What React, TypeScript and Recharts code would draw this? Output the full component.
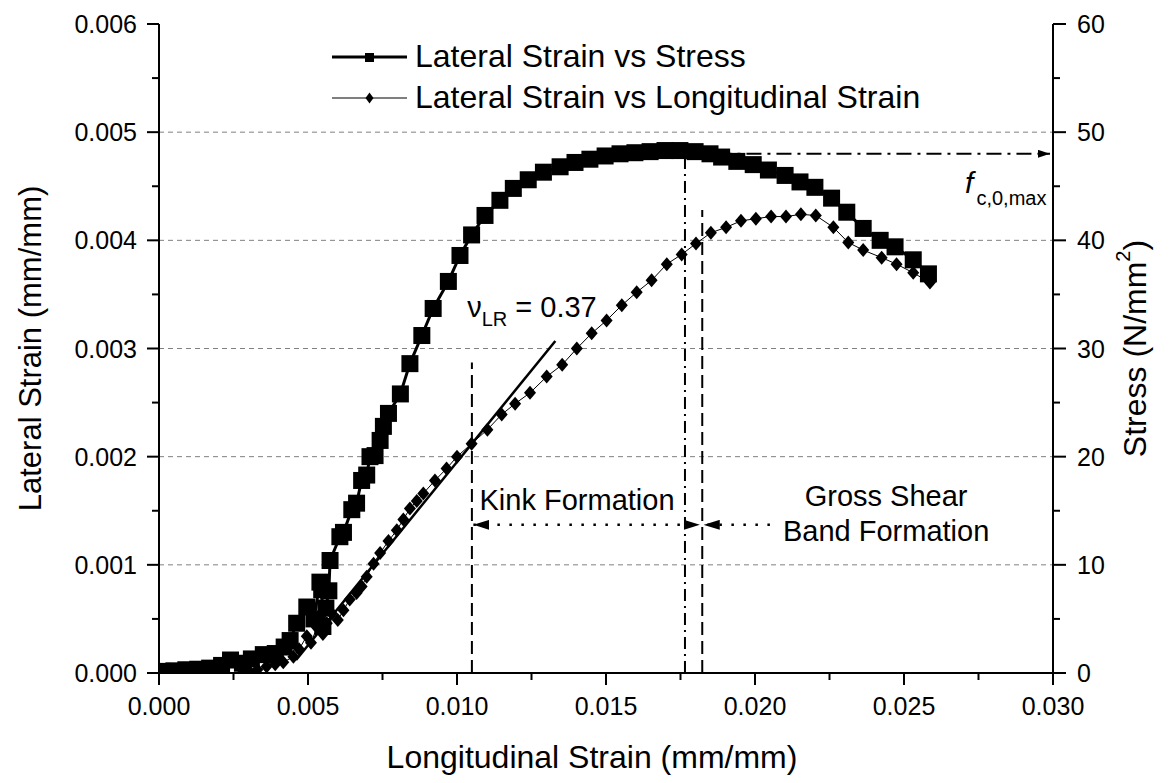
import {
  ComposedChart,
  Line,
  XAxis,
  YAxis,
  CartesianGrid,
  ReferenceLine,
  ReferenceDot,
  Legend,
} from 'recharts';

// squares: longitudinal strain vs stress (right axis)
const sqStrain = [
  0.0001, 0.0005, 0.0009, 0.0013, 0.0017, 0.0021, 0.0024, 0.0028, 0.0031, 0.0035,
  0.0039, 0.0042, 0.0044, 0.00462, 0.00496, 0.0052, 0.0054, 0.00546, 0.0055, 0.0056,
  0.0057, 0.00574, 0.00607, 0.00619, 0.00647, 0.00663, 0.0068, 0.00697, 0.00708, 0.00725,
  0.00742, 0.00753, 0.0077, 0.0081, 0.00842, 0.00882, 0.0092, 0.00971, 0.0101, 0.01049,
  0.01094, 0.01144, 0.01189, 0.01239, 0.0129, 0.01346, 0.01396, 0.01446, 0.01497, 0.01547,
  0.01597, 0.01648, 0.01698, 0.01748, 0.01799, 0.01849, 0.01888, 0.01939, 0.01994, 0.02045,
  0.02101, 0.02151, 0.02201, 0.02257, 0.02308, 0.02363, 0.0242, 0.0247, 0.02531, 0.02582,
];
const sqStress = [
  0.15, 0.2, 0.3, 0.35, 0.45, 0.7, 1.2, 0.9, 1.3, 1.7,
  1.8, 2.4, 3.0, 4.6, 6.1, 5.0, 8.4, 7.7, 4.3, 6.0,
  7.6, 10.4, 12.6, 13.0, 15.1, 15.7, 17.8, 18.3, 20.0, 20.1,
  21.5, 22.8, 24.0, 25.8, 28.6, 31.2, 33.7, 36.2, 38.6, 40.5,
  42.3, 43.7, 44.8, 45.6, 46.3, 46.8, 47.2, 47.5, 47.8, 48.0,
  48.1, 48.2, 48.3, 48.3, 48.2, 48.0, 47.7, 47.3, 47.0, 46.5,
  46.0, 45.4, 44.9, 43.9, 42.6, 41.1, 40.0, 39.4, 38.2, 36.9,
];

// diamonds: longitudinal strain vs lateral strain (left axis)
const dmStrain = [
  0.0028, 0.00305, 0.0033, 0.00361, 0.0039, 0.00417, 0.00451, 0.0047, 0.00496, 0.0051,
  0.0053, 0.0055, 0.00563, 0.0058, 0.006, 0.00619, 0.0064, 0.00663, 0.0068, 0.00697,
  0.0072, 0.00742, 0.0077, 0.00798, 0.0082, 0.00842, 0.00865, 0.00887, 0.00926, 0.00965,
  0.01, 0.01049, 0.01102, 0.0115, 0.01195, 0.01245, 0.01301, 0.01353, 0.01402, 0.01452,
  0.01502, 0.01553, 0.01603, 0.01653, 0.01704, 0.01754, 0.01802, 0.01852, 0.01903, 0.01953,
  0.02003, 0.02054, 0.02104, 0.02154, 0.02204, 0.02263, 0.02313, 0.02363, 0.02425, 0.02475,
  0.02531, 0.02587,
];
const dmLateral = [
  0.0, 0.00001, 0.00003, 0.00006, 0.00008, 0.0001, 0.00015, 0.00022, 0.00034, 0.00028,
  0.00042, 0.00036, 0.00046, 0.00055, 0.00049, 0.00058, 0.00068, 0.00074, 0.0008, 0.00089,
  0.00101, 0.00111, 0.00122, 0.00132, 0.00142, 0.00152, 0.00159, 0.00166, 0.00178, 0.00189,
  0.002, 0.00212, 0.00225, 0.00239, 0.00249, 0.00259, 0.00274, 0.00285, 0.003, 0.00314,
  0.00326, 0.0034, 0.00352, 0.00363, 0.00378, 0.00387, 0.00397, 0.00407, 0.00412, 0.00418,
  0.0042, 0.00422, 0.00422, 0.00424, 0.00423, 0.00412, 0.00398, 0.00391, 0.00384, 0.00378,
  0.0037, 0.00361,
];

const strainTicks = [0, 0.0025, 0.005, 0.0075, 0.01, 0.0125, 0.015, 0.0175, 0.02, 0.0225, 0.025, 0.0275, 0.03];
const lateralTicks = [0, 0.0005, 0.001, 0.0015, 0.002, 0.0025, 0.003, 0.0035, 0.004, 0.0045, 0.005, 0.0055, 0.006];
const stressTicks = [0, 5, 10, 15, 20, 25, 30, 35, 40, 45, 50, 55, 60];
const gridValues = [0.001, 0.002, 0.003, 0.004, 0.005];
const legendOrder = ['stress', 'lateral'];

const FONT = "'Liberation Sans', Arial, Helvetica, sans-serif";
const W = 1173;
const H = 783;
const AXIS_LEFT = 159;
const RIGHT_W = 120;
const BOTTOM_H = 110;
const AXIS_RIGHT = W - RIGHT_W;
const AXIS_BOTTOM = H - BOTTOM_H;

const sqData = sqStrain.map((x, i) => ({ x, stress: sqStress[i] }));
const dmData = dmStrain.map((x, i) => ({ x, lateral: dmLateral[i] }));

const isMajor = (v: number, step: number) => Math.abs(v / step - Math.round(v / step)) < 1e-6;

function LeftTick(props: any) {
  const { payload } = props;
  const y = payload.coordinate;
  const major = isMajor(payload.value, 0.001);
  return (
    <g>
      <line x1={AXIS_LEFT - (major ? 12 : 7)} x2={AXIS_LEFT} y1={y} y2={y} stroke="#000" strokeWidth={2} />
      {major && (
        <text x={AXIS_LEFT - 22} y={y} textAnchor="end" dominantBaseline="central" fontSize={25} fontFamily={FONT} fill="#000">
          {payload.value.toFixed(3)}
        </text>
      )}
    </g>
  );
}

function BottomTick(props: any) {
  const { payload } = props;
  const x = payload.coordinate;
  const major = isMajor(payload.value, 0.005);
  return (
    <g>
      <line x1={x} x2={x} y1={AXIS_BOTTOM} y2={AXIS_BOTTOM + (major ? 12 : 7)} stroke="#000" strokeWidth={2} />
      {major && (
        <text x={x} y={AXIS_BOTTOM + 33} textAnchor="middle" dominantBaseline="central" fontSize={25} fontFamily={FONT} fill="#000">
          {payload.value.toFixed(3)}
        </text>
      )}
    </g>
  );
}

function RightTick(props: any) {
  const { payload } = props;
  const y = payload.coordinate;
  const major = isMajor(payload.value, 10);
  return (
    <g>
      <line x1={AXIS_RIGHT} x2={AXIS_RIGHT + (major ? 13 : 7)} y1={y} y2={y} stroke="#000" strokeWidth={2} />
      {major && (
        <text x={AXIS_RIGHT + 24} y={y} textAnchor="start" dominantBaseline="central" fontSize={25} fontFamily={FONT} fill="#000">
          {payload.value}
        </text>
      )}
    </g>
  );
}

const renderSquare = (p: any) => {
  if (p.cx == null || p.cy == null) return <g key={`sq-${p.index}`} />;
  return <rect key={`sq-${p.index}`} x={p.cx - 8.5} y={p.cy - 8.5} width={17} height={17} fill="#000" />;
};

const renderDiamond = (p: any) => {
  if (p.cx == null || p.cy == null) return <g key={`dm-${p.index}`} />;
  const { cx, cy } = p;
  return (
    <path
      key={`dm-${p.index}`}
      d={`M${cx} ${cy - 7} L${cx + 6} ${cy} L${cx} ${cy + 7} L${cx - 6} ${cy} Z`}
      fill="#000"
    />
  );
};

function renderLegend(props: any) {
  const payload = [...(props.payload || [])].sort(
    (a: any, b: any) => legendOrder.indexOf(a.dataKey) - legendOrder.indexOf(b.dataKey),
  );
  return (
    <div style={{ fontFamily: FONT, fontSize: 32, color: '#000' }}>
      {payload.map((entry: any) => {
        const isStress = entry.dataKey === 'stress';
        return (
          <div key={entry.value} style={{ display: 'flex', alignItems: 'center', height: 41, whiteSpace: 'nowrap' }}>
            <svg width={75} height={20} style={{ marginRight: 8 }}>
              <line x1={0} x2={75} y1={10} y2={10} stroke="#000" strokeWidth={isStress ? 3 : 1.2} />
              {isStress ? (
                <rect x={33} y={6} width={9} height={9} fill="#000" />
              ) : (
                <path d="M37.5 4.5 L41.5 10 L37.5 15.5 L33.5 10 Z" fill="#000" />
              )}
            </svg>
            <span>{entry.value}</span>
          </div>
        );
      })}
    </div>
  );
}

// annotation anchors, in data units
const kinkTextAt = { x: 0.0173, y: 0.0016 };
const shearTextAt = { x: 0.0244, y: 0.00148 };
const nuTextAt = { x: 0.01034, y: 0.00329 };
const fTextAt = { x: 0.02705, y: 44.4 };
const arrowLevel = 0.00137;

const txt = { fontFamily: FONT, fill: '#000' };

const arrowLine = (marker: { start?: string; end?: string }, dash: string, width: number) => (p: any) => (
  <line
    x1={p.x1}
    y1={p.y1}
    x2={p.x2}
    y2={p.y2}
    stroke="#000"
    strokeWidth={width}
    strokeDasharray={dash}
    markerStart={marker.start ? `url(#${marker.start})` : undefined}
    markerEnd={marker.end ? `url(#${marker.end})` : undefined}
  />
);

export default function App() {
  return (
    <div style={{ position: 'absolute', left: 0, top: 0, width: W, height: H, background: '#fff' }}>
      <svg width={0} height={0} style={{ position: 'absolute' }}>
        <defs>
          <marker id="arrowHead" viewBox="0 0 16 10" refX={16} refY={5} markerWidth={16} markerHeight={10} markerUnits="userSpaceOnUse" orient="auto-start-reverse">
            <path d="M0 0 L16 5 L0 10 Z" fill="#000" />
          </marker>
          <marker id="arrowSmall" viewBox="0 0 12 8" refX={12} refY={4} markerWidth={12} markerHeight={8} markerUnits="userSpaceOnUse" orient="auto">
            <path d="M0 0 L12 4 L0 8 Z" fill="#000" />
          </marker>
        </defs>
      </svg>
      <ComposedChart width={W} height={H} margin={{ top: 24, right: 0, bottom: 0, left: 0 }}>
        <CartesianGrid
          yAxisId="left"
          vertical={false}
          horizontalValues={gridValues}
          stroke="#808080"
          strokeDasharray="5 4"
        />
        <XAxis
          dataKey="x"
          type="number"
          domain={[0, 0.03]}
          ticks={strainTicks}
          interval={0}
          allowDataOverflow
          height={BOTTOM_H}
          tickLine={false}
          axisLine={{ stroke: '#000', strokeWidth: 2 }}
          tick={<BottomTick />}
          label={(p: any) => (
            <text
              x={p.viewBox.x + p.viewBox.width / 2 - 14}
              y={p.viewBox.y + 84}
              textAnchor="middle"
              dominantBaseline="central"
              fontSize={32}
              {...txt}
            >
              Longitudinal Strain (mm/mm)
            </text>
          )}
        />
        <XAxis
          xAxisId="top"
          orientation="top"
          type="number"
          domain={[0, 0.03]}
          height={0}
          tick={false}
          tickLine={false}
          axisLine={{ stroke: '#000', strokeWidth: 2 }}
        />
        <YAxis
          yAxisId="left"
          type="number"
          domain={[0, 0.006]}
          ticks={lateralTicks}
          interval={0}
          allowDataOverflow
          width={AXIS_LEFT}
          tickLine={false}
          axisLine={{ stroke: '#000', strokeWidth: 2 }}
          tick={<LeftTick />}
          label={(p: any) => {
            const cy = p.viewBox.y + p.viewBox.height / 2;
            return (
              <text x={30} y={cy} transform={`rotate(-90 30 ${cy})`} textAnchor="middle" dominantBaseline="central" fontSize={31} {...txt}>
                Lateral Strain (mm/mm)
              </text>
            );
          }}
        />
        <YAxis
          yAxisId="right"
          orientation="right"
          type="number"
          domain={[0, 60]}
          ticks={stressTicks}
          interval={0}
          allowDataOverflow
          width={RIGHT_W}
          tickLine={false}
          axisLine={{ stroke: '#000', strokeWidth: 2 }}
          tick={<RightTick />}
          label={(p: any) => {
            const cy = p.viewBox.y + p.viewBox.height / 2;
            const cx = AXIS_RIGHT + 82;
            return (
              <text x={cx} y={cy} transform={`rotate(-90 ${cx} ${cy})`} textAnchor="middle" dominantBaseline="central" fontSize={32} {...txt}>
                Stress (N/mm
                <tspan dy={-12} fontSize={20}>2</tspan>
                <tspan dy={12}>)</tspan>
              </text>
            );
          }}
        />

        <ReferenceLine
          yAxisId="left"
          segment={[{ x: 0.0046, y: 0.00012 }, { x: 0.0133, y: 0.00307 }]}
          stroke="#000"
          strokeWidth={2.5}
        />
        <ReferenceLine
          yAxisId="left"
          segment={[{ x: 0.0105, y: 0 }, { x: 0.0105, y: 0.00287 }]}
          stroke="#000"
          strokeWidth={2}
          strokeDasharray="13 6"
        />
        <ReferenceLine
          yAxisId="left"
          segment={[{ x: 0.01823, y: 0 }, { x: 0.01823, y: 0.00428 }]}
          stroke="#000"
          strokeWidth={2}
          strokeDasharray="13 6"
        />
        <ReferenceLine
          yAxisId="right"
          segment={[{ x: 0.01765, y: 0 }, { x: 0.01765, y: 47.8 }]}
          stroke="#000"
          strokeWidth={2}
          strokeDasharray="12 5 2 5"
        />
        <ReferenceLine
          yAxisId="right"
          segment={[{ x: 0.0177, y: 48 }, { x: 0.0299, y: 48 }]}
          shape={arrowLine({ end: 'arrowSmall' }, '15 6 3 6', 2)}
        />
        <ReferenceLine
          yAxisId="left"
          segment={[{ x: 0.01055, y: arrowLevel }, { x: 0.01815, y: arrowLevel }]}
          shape={arrowLine({ start: 'arrowHead', end: 'arrowHead' }, '2.5 9.5', 2.5)}
        />
        <ReferenceLine
          yAxisId="left"
          segment={[{ x: 0.0205, y: arrowLevel }, { x: 0.01828, y: arrowLevel }]}
          shape={arrowLine({ end: 'arrowHead' }, '2.5 9.5', 2.5)}
        />

        <Line
          data={sqData}
          dataKey="stress"
          yAxisId="right"
          name="Lateral Strain vs Stress"
          type="linear"
          stroke="#000"
          strokeWidth={3}
          dot={renderSquare}
          activeDot={false}
          isAnimationActive={false}
        />
        <Line
          data={dmData}
          dataKey="lateral"
          yAxisId="left"
          name="Lateral Strain vs Longitudinal Strain"
          type="linear"
          stroke="#000"
          strokeWidth={1}
          dot={renderDiamond}
          activeDot={false}
          isAnimationActive={false}
        />

        <ReferenceDot
          yAxisId="left"
          x={kinkTextAt.x}
          y={kinkTextAt.y}
          r={0}
          stroke="none"
          label={(p: any) => (
            <text x={p.viewBox.x} y={p.viewBox.y} textAnchor="end" dominantBaseline="central" fontSize={29} {...txt}>
              Kink Formation
            </text>
          )}
        />
        <ReferenceDot
          yAxisId="left"
          x={shearTextAt.x}
          y={shearTextAt.y}
          r={0}
          stroke="none"
          label={(p: any) => (
            <text x={p.viewBox.x} y={p.viewBox.y} textAnchor="middle" fontSize={29} {...txt}>
              <tspan x={p.viewBox.x} y={p.viewBox.y - 7}>Gross Shear</tspan>
              <tspan x={p.viewBox.x} y={p.viewBox.y + 28}>Band Formation</tspan>
            </text>
          )}
        />
        <ReferenceDot
          yAxisId="left"
          x={nuTextAt.x}
          y={nuTextAt.y}
          r={0}
          stroke="none"
          label={(p: any) => (
            <text x={p.viewBox.x} y={p.viewBox.y} fontSize={29} {...txt}>
              ν<tspan dy={9} fontSize={20}>LR</tspan>
              <tspan dy={-9}> = 0.37</tspan>
            </text>
          )}
        />
        <ReferenceDot
          yAxisId="right"
          x={fTextAt.x}
          y={fTextAt.y}
          r={0}
          stroke="none"
          label={(p: any) => (
            <text x={p.viewBox.x} y={p.viewBox.y} fontSize={30} {...txt}>
              <tspan fontStyle="italic">f</tspan>
              <tspan dx={3} dy={12} fontSize={20}>c,0,max</tspan>
            </text>
          )}
        />

        <Legend
          layout="vertical"
          align="center"
          verticalAlign="middle"
          content={renderLegend}
          wrapperStyle={{ left: 332, top: 36, width: 'auto', height: 'auto' }}
        />
      </ComposedChart>
    </div>
  );
}
